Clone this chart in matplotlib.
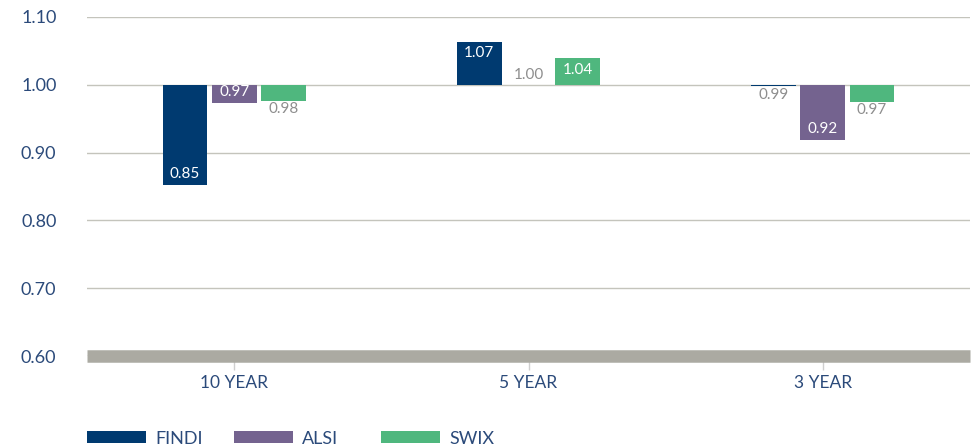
import matplotlib
matplotlib.use("Agg")
import matplotlib.pyplot as plt
from matplotlib.patches import Rectangle
import numpy as np

plt.rcParams['font.family'] = ['Lato', 'DejaVu Sans']

categories = ["10 YEAR", "5 YEAR", "3 YEAR"]
series_names = ["FINDI", "ALSI", "SWIX"]
findi = [0.852, 1.063, 0.998]
alsi = [0.973, 1.000, 0.919]
swix = [0.976, 1.039, 0.975]
findi_labels = ["0.85", "1.07", "0.99"]
alsi_labels = ["0.97", "1.00", "0.92"]
swix_labels = ["0.98", "1.04", "0.97"]
yticks = [0.60, 0.70, 0.80, 0.90, 1.00, 1.10]
baseline = 1.0

colors = ["#003A70", "#74638F", "#4FB77E"]
navy_text = "#2B4A7A"
gray_text = "#8E8E8E"

W, H = 977, 448
fig = plt.figure(figsize=(W/100, H/100), dpi=100)
ax = fig.add_axes([87/W, 1-356/H, (970-87)/W, (356-17)/H])

x = np.arange(len(categories))
width = 0.152
offsets = [-0.167, 0.0, 0.167]
all_vals = [findi, alsi, swix]
all_labels = [findi_labels, alsi_labels, swix_labels]

for vals, labs, off, col in zip(all_vals, all_labels, offsets, colors):
    heights = [v - baseline for v in vals]
    ax.bar(x + off, heights, width, bottom=baseline, color=col, zorder=3)
    for xi, v, lab in zip(x, vals, labs):
        d = v - baseline
        if abs(d) >= 0.027:
            if d > 0:
                ax.annotate(lab, (xi + off, v), xytext=(0, -3), textcoords="offset points",
                            ha="center", va="top", color="white", fontsize=11, zorder=4)
            else:
                ax.annotate(lab, (xi + off, v), xytext=(0, 3), textcoords="offset points",
                            ha="center", va="bottom", color="white", fontsize=11, zorder=4)
        else:
            if d > 0 or abs(d) < 1e-9:
                ax.annotate(lab, (xi + off, max(v, baseline)), xytext=(0, 2), textcoords="offset points",
                            ha="center", va="bottom", color=gray_text, fontsize=11, zorder=4)
            else:
                ax.annotate(lab, (xi + off, v), xytext=(0, -1), textcoords="offset points",
                            ha="center", va="top", color=gray_text, fontsize=11, zorder=4)

ax.set_xlim(-0.5, len(categories) - 0.5)
ax.set_ylim(0.6, 1.1)
ax.set_yticks(yticks)
ax.set_yticklabels([f"{t:.2f}" for t in yticks])
ax.set_xticks(x)
ax.set_xticklabels(categories)

for s in ["top", "right", "left"]:
    ax.spines[s].set_visible(False)
ax.spines["bottom"].set_color("#ABAAA2")
ax.spines["bottom"].set_linewidth(9)
ax.spines["bottom"].set_capstyle("butt")
ax.spines["bottom"].set_zorder(5)

ax.yaxis.grid(True, color="#C4C4BC", linewidth=1.0, zorder=0)
ax.tick_params(axis="y", length=0, pad=22, labelsize=13, labelcolor=navy_text)
ax.tick_params(axis="x", length=10, width=1, color="#CFCFCF", pad=4, labelsize=12.5, labelcolor=navy_text)

# legend: evenly spaced items along the bottom
for i, (name, col) in enumerate(zip(series_names, colors)):
    x0 = 87 + i * 147
    fig.patches.append(Rectangle((x0 / W, 1 - 443 / H), 59 / W, 12 / H,
                                 transform=fig.transFigure, facecolor=col, edgecolor="none"))
    fig.text((x0 + 68) / W, 1 - 443.5 / H, name, ha="left", va="baseline",
             fontsize=13, color=navy_text)

fig.savefig("out.png", dpi=100)
